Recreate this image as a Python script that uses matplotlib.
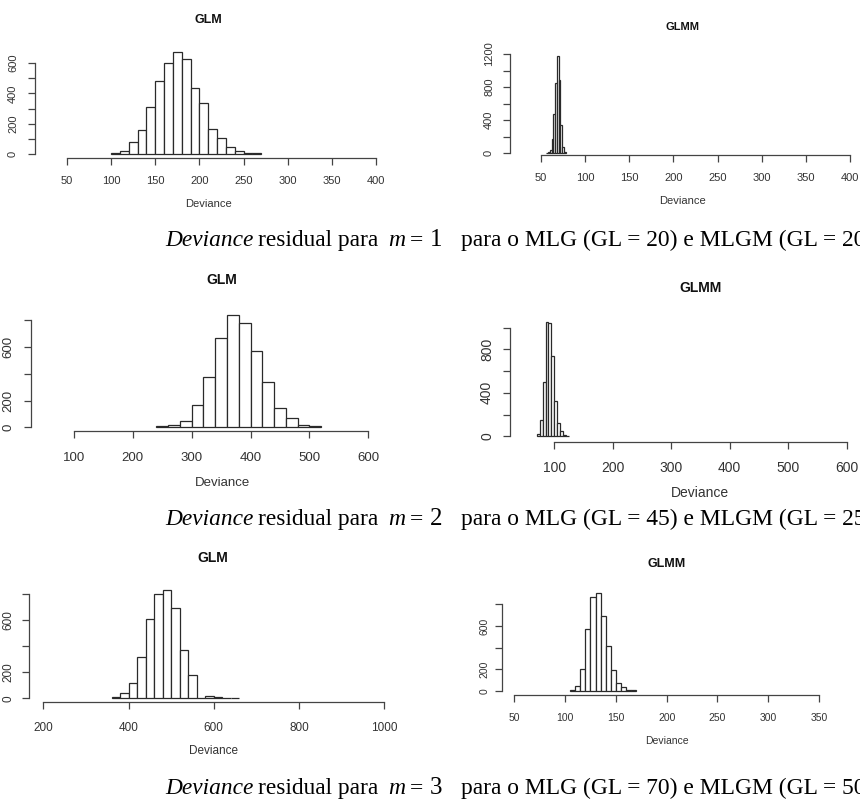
import matplotlib.pyplot as plt
import numpy as np

plt.rcParams['font.family'] = ['Liberation Sans', 'DejaVu Sans']

W, H = 860, 801

# simulated residual deviance counts, one histogram per model and m
glm1_start, glm1_width = 100, 10
glm1_counts = [5, 20, 79, 158, 310, 479, 600, 672, 626, 433, 334, 165, 103, 48, 20, 7, 4]
glmm1_start, glmm1_width = 56, 2
glmm1_counts = [5, 12, 40, 170, 475, 846, 1170, 880, 340, 80, 15]

glm2_start, glm2_width = 240, 20
glm2_counts = [7, 15, 45, 167, 376, 665, 842, 782, 568, 341, 142, 67, 20, 7]
glmm2_start, glmm2_width = 70, 5
glmm2_counts = [18, 150, 496, 1050, 1045, 738, 325, 120, 46, 10, 3]

glm3_start, glm3_width = 360, 20
glm3_counts = [10, 38, 115, 320, 608, 800, 833, 692, 372, 177, 0, 15, 12, 5, 5]
glmm3_start, glmm3_width = 105, 5
glmm3_counts = [6, 43, 200, 570, 870, 908, 695, 412, 194, 71, 34, 6, 5]

# axis ticks and labels
xt_glm1 = [50, 100, 150, 200, 250, 300, 350, 400]
yt_glm1 = [0, 100, 200, 300, 400, 500, 600]
yl_glm1 = ['0', '', '200', '', '400', '', '600']
xt_glmm1 = [50, 100, 150, 200, 250, 300, 350, 400]
yt_glmm1 = [0, 200, 400, 600, 800, 1000, 1200]
yl_glmm1 = ['0', '', '400', '', '800', '', '1200']

xt_glm2 = [100, 200, 300, 400, 500, 600]
yt_glm2 = [0, 200, 400, 600, 800]
yl_glm2 = ['0', '200', '', '600', '']
xt_glmm2 = [100, 200, 300, 400, 500, 600]
yt_glmm2 = [0, 200, 400, 600, 800, 1000]
yl_glmm2 = ['0', '', '400', '', '800', '']

xt_glm3 = [200, 400, 600, 800, 1000]
yt_glm3 = [0, 200, 400, 600, 800]
yl_glm3 = ['0', '200', '', '600', '']
xt_glmm3 = [50, 100, 150, 200, 250, 300, 350]
yt_glmm3 = [0, 200, 400, 600, 800]
yl_glmm3 = ['0', '200', '', '600', '']

m_values = ['1', '2', '3']
gl_glm = ['20', '45', '70']
gl_glmm = ['20', '25', '50']

fig = plt.figure(figsize=(W / 100, H / 100), dpi=100)


def fx(px):
    return px / W


def fy(py):
    return 1 - py / H


def graph(box, xmap, ymap, start, width, counts, xticks, yticks, ylabels,
          title, tpos, lpos, fs, tfs, xpad, ypad):
    L, B, R, T = box
    ax = fig.add_axes([fx(L), fy(B), (R - L) / W, (B - T) / H])
    (xa, pa), (xb, pb) = xmap
    kx = (pb - pa) / (xb - xa)
    ax.set_xlim(xa + (L - pa) / kx, xa + (R - pa) / kx)
    (ya, qa), (yb, qb) = ymap
    ky = (qa - qb) / (yb - ya)
    ax.set_ylim(ya - (B - qa) / ky, ya + (qa - T) / ky)

    edges = start + width * np.arange(len(counts))
    ax.bar(edges, counts, width=width, align='edge', color='white',
           edgecolor='#2a2a2a', linewidth=0.9, clip_on=False)

    for s in ['top', 'right']:
        ax.spines[s].set_visible(False)
    ax.spines['left'].set_bounds(yticks[0], yticks[-1])
    ax.spines['bottom'].set_bounds(xticks[0], xticks[-1])
    for s in ['left', 'bottom']:
        ax.spines[s].set_color('#444444')
        ax.spines[s].set_linewidth(0.9)
    ax.set_xticks(xticks)
    ax.set_xticklabels([str(v) for v in xticks])
    ax.set_yticks(yticks)
    ax.set_yticklabels(ylabels, rotation=90, va='center')
    ax.tick_params(direction='out', length=5, width=0.9, color='#444444',
                   labelsize=fs, labelcolor='#333333')
    ax.tick_params(axis='x', pad=xpad * 0.72)
    ax.tick_params(axis='y', pad=ypad * 0.72)
    ax.patch.set_visible(False)

    fig.text(fx(tpos[0]), fy(tpos[1]), title, ha='center', va='center',
             fontsize=tfs, fontweight='bold', color='#111111')
    fig.text(fx(lpos[0]), fy(lpos[1]), 'Deviance', ha='center', va='center',
             fontsize=fs, color='#333333')


# m = 1
graph((35, 158, 380, 45), ((50, 67), (400, 376)), ((0, 154), (600, 63)),
      glm1_start, glm1_width, glm1_counts, xt_glm1, yt_glm1, yl_glm1,
      'GLM', (208, 20), (208, 204), 8, 9, 11, 10)
graph((510, 155.3, 855, 45), ((50, 541), (400, 850)), ((0, 153.3), (1200, 54)),
      glmm1_start, glmm1_width, glmm1_counts, xt_glmm1, yt_glmm1, yl_glmm1,
      'GLMM', (682, 27), (682, 201), 8, 8, 11, 9)

# m = 2
graph((30.7, 431, 372, 310), ((100, 74), (600, 368.3)), ((0, 427.3), (600, 347)),
      glm2_start, glm2_width, glm2_counts, xt_glm2, yt_glm2, yl_glm2,
      'GLM', (222, 280), (222, 483), 9.5, 10, 14, 9)
graph((510, 442, 852, 315), ((100, 554.3), (600, 846.7)), ((0, 436.3), (800, 349.3)),
      glmm2_start, glmm2_width, glmm2_counts, xt_glmm2, yt_glmm2, yl_glmm2,
      'GLMM', (701, 288), (700, 493), 10, 10, 12, 9)

# m = 3
graph((29.3, 702.3, 388, 585), ((200, 43.3), (1000, 384.3)), ((0, 698.3), (800, 594.3)),
      glm3_start, glm3_width, glm3_counts, xt_glm3, yt_glm3, yl_glm3,
      'GLM', (213, 558), (213, 751), 8.5, 10, 13, 8)
graph((502.3, 694.7, 823, 590), ((50, 514.3), (350, 819)), ((0, 691), (800, 604.3)),
      glmm3_start, glmm3_width, glmm3_counts, xt_glmm3, yt_glmm3, yl_glmm3,
      'GLMM', (667, 564), (667, 741), 7.5, 9, 11.5, 6)

# captions under each row
cap_base = [246, 525, 794]
serif = ['Liberation Serif', 'DejaVu Serif']
for m, g1, g2, yb in zip(m_values, gl_glm, gl_glmm, cap_base):
    y = fy(yb)
    fig.text(fx(165), y, 'Deviance', family=serif, style='italic',
             fontsize=16.8, va='baseline')
    fig.text(fx(258), y, 'residual para', family=serif, fontsize=16.8,
             va='baseline')
    fig.text(fx(388), y, 'm', family=serif, style='italic', fontsize=17,
             va='baseline')
    fig.text(fx(410), y, '=', family=serif, fontsize=17, va='baseline')
    fig.text(fx(430), y, m, family=serif, fontsize=18, va='baseline')
    fig.text(fx(461), y, f'para o MLG (GL = {g1}) e MLGM (GL = {g2})',
             family=serif, fontsize=16.9, va='baseline')

plt.savefig('out.png', dpi=100)
